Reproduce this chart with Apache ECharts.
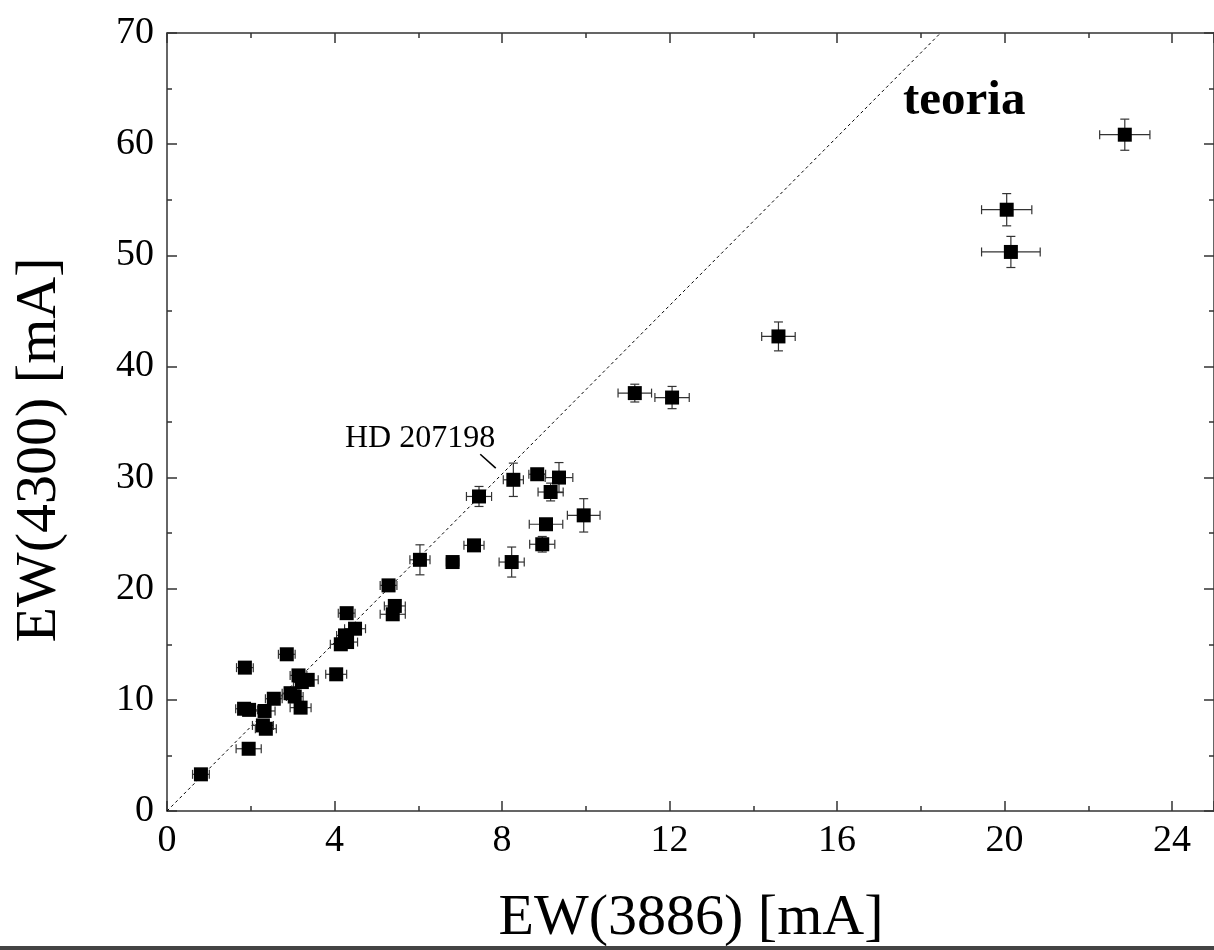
<!DOCTYPE html>
<html>
<head>
<meta charset="utf-8">
<script src="https://cdn.jsdelivr.net/npm/echarts@6/dist/echarts.min.js"></script>
<style>
html,body{margin:0;padding:0;background:#fff;}
#chart{width:1214px;height:950px;}
</style>
</head>
<body>
<div id="chart"></div>
<script>
// EW(3886) [mA]
var ew3886 = [0.81,1.95,1.86,1.84,1.96,2.29,2.36,2.33,2.55,2.86,2.95,3.05,3.19,3.14,3.22,3.36,4.04,4.15,4.25,4.30,4.49,4.29,5.29,5.44,5.39,6.04,6.82,7.33,7.45,8.27,8.23,8.84,9.36,9.16,9.05,8.96,9.95,11.17,12.06,14.60,20.05,20.15,22.87];
// EW(4300) [mA]
var ew4300 = [3.3,5.6,12.9,9.2,9.1,7.7,7.4,9.0,10.1,14.1,10.6,10.3,9.3,12.2,11.6,11.8,12.3,15.0,15.8,15.2,16.4,17.8,20.3,18.45,17.7,22.6,22.4,23.9,28.3,29.8,22.4,30.3,30.0,28.7,25.8,24.0,26.6,37.6,37.2,42.7,54.1,50.3,60.85];
// errors
var errX = [0.2,0.3,0.2,0.2,0.2,0.25,0.25,0.25,0.2,0.2,0.2,0.2,0.25,0.2,0.2,0.25,0.25,0.25,0.2,0.25,0.25,0.2,0.2,0.25,0.3,0.24,0.15,0.24,0.3,0.24,0.3,0.2,0.33,0.3,0.4,0.3,0.39,0.4,0.41,0.4,0.6,0.7,0.6];
var errY = [0.4,0.4,0.4,0.4,0.4,0.4,0.5,0.4,0.4,0.4,0.4,0.5,0.5,0.4,0.4,0.4,0.5,0.5,0.5,0.5,0.5,0.4,0.5,0.5,0.5,1.35,0.4,0.4,0.9,1.5,1.35,0.5,1.35,0.8,0.4,0.7,1.5,0.8,1.0,1.3,1.45,1.4,1.4];
// theory line (x, y)
var teoriaLine = [[0,0],[18.47,70]];
// pointer for HD 207198
var hdPointer = [[7.48,32.1],[7.85,30.85]];
// ticks
var xTicks = [0,4,8,12,16,20,24];
var yTicks = [0,10,20,30,40,50,60,70];

var points = ew3886.map(function(x,i){return [x, ew4300[i], errX[i], errY[i]];});

var chart = echarts.init(document.getElementById('chart'), null, {renderer:'canvas'});
var FONT = '"Liberation Serif", "DejaVu Serif", serif';
var axisLineStyle = {color:'#333', width:1.5};

function errRender(params, api){
  var x = api.value(0), y = api.value(1), ex = api.value(2), ey = api.value(3);
  var c = api.coord([x,y]);
  var l = api.coord([x-ex,y]), r = api.coord([x+ex,y]);
  var t = api.coord([x,y+ey]), b = api.coord([x,y-ey]);
  var cap = 4.5;
  var st = {stroke:'#333', lineWidth:1.2};
  return {type:'group', children:[
    {type:'line', shape:{x1:l[0],y1:c[1],x2:r[0],y2:c[1]}, style:st},
    {type:'line', shape:{x1:l[0],y1:c[1]-cap,x2:l[0],y2:c[1]+cap}, style:st},
    {type:'line', shape:{x1:r[0],y1:c[1]-cap,x2:r[0],y2:c[1]+cap}, style:st},
    {type:'line', shape:{x1:c[0],y1:t[1],x2:c[0],y2:b[1]}, style:st},
    {type:'line', shape:{x1:c[0]-cap,y1:t[1],x2:c[0]+cap,y2:t[1]}, style:st},
    {type:'line', shape:{x1:c[0]-cap,y1:b[1],x2:c[0]+cap,y2:b[1]}, style:st}
  ]};
}

var option = {
  backgroundColor:'#fff',
  animation:false,
  grid:{left:167, top:33, width:1050, height:778, containLabel:false},
  xAxis:[
    {type:'value', min:0, max:25, interval:4, position:'bottom',
     axisLine:{show:true, onZero:false, lineStyle:axisLineStyle},
     axisTick:{show:true, inside:true, length:10, lineStyle:axisLineStyle},
     minorTick:{show:true, splitNumber:2, length:5, lineStyle:axisLineStyle},
     splitLine:{show:false},
     axisLabel:{show:true, margin:11, fontFamily:FONT, fontSize:38, color:'#000',
       showMaxLabel:false,
       formatter:function(v){return xTicks.indexOf(v)>=0 ? String(v) : '';}}},
    {type:'value', min:0, max:25, interval:4, position:'top',
     axisLine:{show:true, onZero:false, lineStyle:axisLineStyle},
     axisTick:{show:true, inside:true, length:10, lineStyle:axisLineStyle},
     minorTick:{show:true, splitNumber:2, length:5, lineStyle:axisLineStyle},
     splitLine:{show:false}, axisLabel:{show:false}}
  ],
  yAxis:[
    {type:'value', min:0, max:70, interval:10, position:'left',
     axisLine:{show:true, onZero:false, lineStyle:axisLineStyle},
     axisTick:{show:true, inside:true, length:10, lineStyle:axisLineStyle},
     minorTick:{show:true, splitNumber:2, length:5, lineStyle:axisLineStyle},
     splitLine:{show:false},
     axisLabel:{show:true, margin:13, fontFamily:FONT, fontSize:38, color:'#000',
       formatter:function(v){return yTicks.indexOf(v)>=0 ? String(v) : '';}}},
    {type:'value', min:0, max:70, interval:10, position:'right',
     axisLine:{show:true, onZero:false, lineStyle:axisLineStyle},
     axisTick:{show:true, inside:true, length:10, lineStyle:axisLineStyle},
     minorTick:{show:true, splitNumber:2, length:5, lineStyle:axisLineStyle},
     splitLine:{show:false}, axisLabel:{show:false}}
  ],
  series:[
    {type:'line', data:teoriaLine, symbol:'none', silent:true,
     lineStyle:{color:'#000', width:1, type:[3,3]}, z:1},
    {type:'line', data:hdPointer, symbol:'none', silent:true,
     lineStyle:{color:'#000', width:1.6}, z:1},
    {type:'custom', data:points, renderItem:errRender, z:2, silent:true,
     encode:{x:0, y:1}},
    {type:'scatter', data:points, symbol:'rect', symbolSize:14,
     itemStyle:{color:'#000', opacity:1}, z:3, encode:{x:0, y:1}}
  ],
  graphic:[
    {type:'text', x:345, y:439, style:{text:'HD 207198', font:'32px '+FONT, fill:'#000', textAlign:'left', textVerticalAlign:'middle'}},
    {type:'text', x:903, y:101, style:{text:'teoria', font:'bold 49px '+FONT, fill:'#000', textAlign:'left', textVerticalAlign:'middle'}},
    {type:'text', x:691, y:919, style:{text:'EW(3886) [mA]', font:'58px '+FONT, fill:'#000', textAlign:'center', textVerticalAlign:'middle'}},
    {type:'text', x:40, y:450, rotation:Math.PI/2, style:{text:'EW(4300) [mA]', font:'58px '+FONT, fill:'#000', textAlign:'center', textVerticalAlign:'middle'}},
    {type:'rect', shape:{x:0, y:946, width:1214, height:4}, style:{fill:'#444'}}
  ]
};
chart.setOption(option);
</script>
</body>
</html>
